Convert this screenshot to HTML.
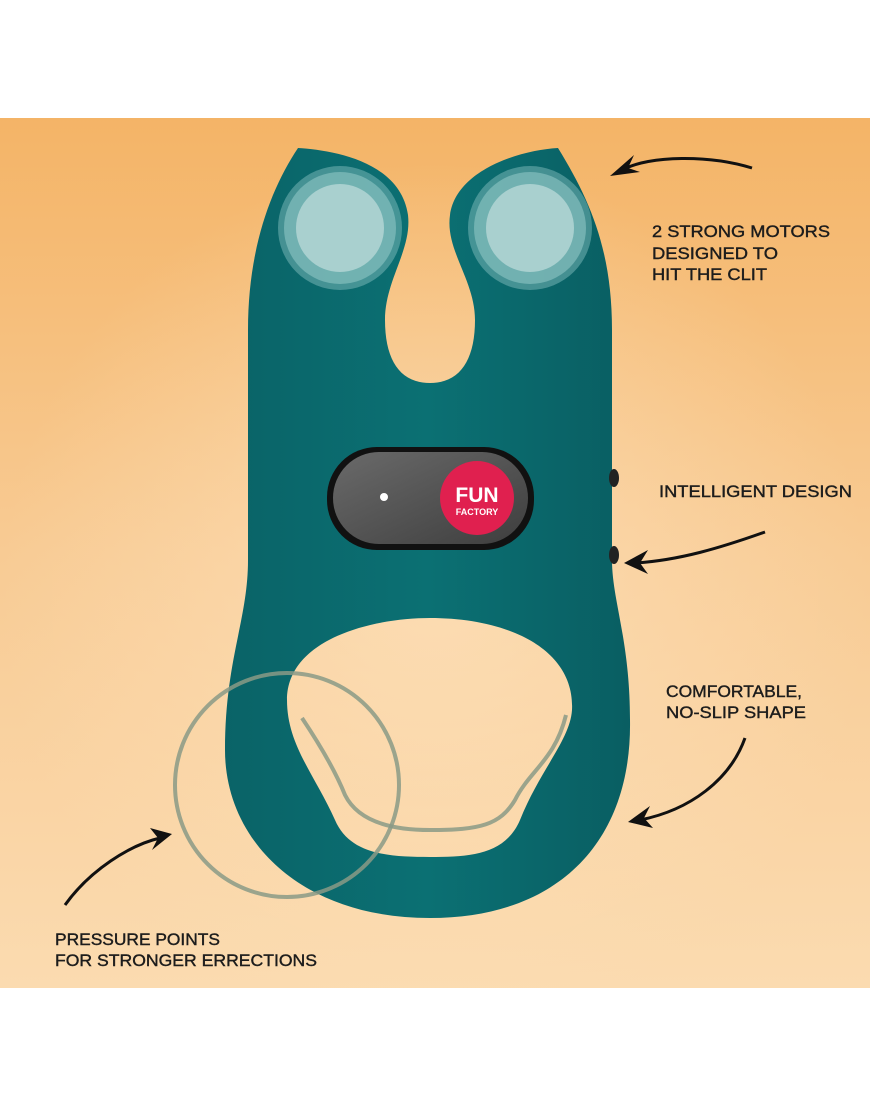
<!DOCTYPE html>
<html><head><meta charset="utf-8"><style>
html,body{margin:0;padding:0;background:#fff;}
svg{display:block;}
text{font-family:"Liberation Sans",sans-serif;font-size:17px;fill:#1c1c1c;stroke:#1c1c1c;stroke-width:0.4;}
</style></head><body>
<svg width="870" height="1108" viewBox="0 0 870 1108" xmlns="http://www.w3.org/2000/svg">
<defs>
<linearGradient id="bg" x1="0" y1="0" x2="0" y2="1">
<stop offset="0" stop-color="#f4b467"/><stop offset="0.5" stop-color="#f8cb94"/><stop offset="1" stop-color="#fbdbb0"/>
</linearGradient>
<radialGradient id="glow" cx="0.5" cy="0.55" r="0.5">
<stop offset="0" stop-color="#fde2bd" stop-opacity="0.7"/><stop offset="1" stop-color="#fde2bd" stop-opacity="0"/>
</radialGradient>
<linearGradient id="teal" x1="0" y1="0" x2="1" y2="0">
<stop offset="0" stop-color="#0a6367"/><stop offset="0.5" stop-color="#0b7073"/><stop offset="1" stop-color="#095e62"/>
</linearGradient>
<linearGradient id="panel" x1="0" y1="0" x2="1" y2="1">
<stop offset="0" stop-color="#6a6a6a"/><stop offset="1" stop-color="#3e3e3e"/>
</linearGradient>
</defs>
<rect x="0" y="118" width="870" height="870" fill="url(#bg)"/>
<rect x="0" y="118" width="870" height="870" fill="url(#glow)"/>

<path fill="url(#teal)" fill-rule="evenodd" d="M298,148 C330,150 400,160 408,215 C412,250 385,280 385,320 C385,360 400,383 430,383 C460,383 475,360 475,320 C475,280 445,250 450,215 C456,170 520,150 558,148 C590,200 612,250 612,330 L612,560 C612,600 630,640 630,720 C632,840 560,918 430,918 C300,918 225,840 225,750 C225,660 248,620 248,560 L248,330 C248,250 270,190 298,148 Z
M287,700 C287,640 370,618 430,618 C510,618 575,650 572,710 C570,740 540,770 520,820 C505,855 470,857 430,857 C390,857 350,855 335,820 C315,775 287,745 287,700 Z"/>

<circle cx="340" cy="228" r="62" fill="#7fbcbc" opacity="0.5"/>
<circle cx="340" cy="228" r="56" fill="#8fc6c5" opacity="0.6"/>
<circle cx="340" cy="228" r="44" fill="#a9d0cf"/>
<circle cx="530" cy="228" r="62" fill="#7fbcbc" opacity="0.5"/>
<circle cx="530" cy="228" r="56" fill="#8fc6c5" opacity="0.6"/>
<circle cx="530" cy="228" r="44" fill="#a9d0cf"/>

<rect x="327" y="447" width="207" height="103" rx="50" fill="#111"/>
<rect x="333" y="452" width="195" height="92" rx="46" fill="url(#panel)"/>
<circle cx="384" cy="497" r="4" fill="#fff"/>
<circle cx="477" cy="498" r="37" fill="#e0204f"/>
<text x="477" y="502" text-anchor="middle" style="font-size:21px;font-weight:bold;fill:#fff;stroke:none">FUN</text>
<text x="477" y="515" text-anchor="middle" style="font-size:9px;font-weight:bold;fill:#fff;stroke:none">FACTORY</text>
<ellipse cx="614" cy="478" rx="5" ry="9" fill="#222"/>
<ellipse cx="614" cy="555" rx="5" ry="9" fill="#222"/>

<circle cx="287" cy="785" r="112" fill="none" stroke="#8a9a86" stroke-width="4" opacity="0.85"/>
<path d="M302,718 C320,745 335,770 345,795 C360,825 400,830 430,830 C480,830 500,825 515,800 C530,770 555,760 566,715" fill="none" stroke="#8a9a86" stroke-width="4" opacity="0.85"/>

<g fill="none" stroke="#111" stroke-width="3">
<path d="M752,168 C710,155 650,155 622,170"/>
<path d="M765,532 C720,548 680,560 636,563"/>
<path d="M745,738 C730,780 690,810 640,820"/>
<path d="M65,905 C90,870 130,845 160,838"/>
</g>
<g fill="#111">
<path d="M610,176 L634,155 L628,168 L640,172 Z"/>
<path d="M624,563 L648,550 L640,563 L648,574 Z"/>
<path d="M628,822 L650,806 L644,818 L653,828 Z"/>
<path d="M172,834 L150,828 L158,838 L152,850 Z"/>
</g>

<text x="652" y="237" textLength="178" lengthAdjust="spacingAndGlyphs">2 STRONG MOTORS</text>
<text x="652" y="259" textLength="126" lengthAdjust="spacingAndGlyphs">DESIGNED TO</text>
<text x="652" y="280" textLength="115" lengthAdjust="spacingAndGlyphs">HIT THE CLIT</text>
<text x="659" y="497" textLength="193" lengthAdjust="spacingAndGlyphs">INTELLIGENT DESIGN</text>
<text x="666" y="697" textLength="136" lengthAdjust="spacingAndGlyphs">COMFORTABLE,</text>
<text x="666" y="718" textLength="140" lengthAdjust="spacingAndGlyphs">NO-SLIP SHAPE</text>
<text x="55" y="945" textLength="165" lengthAdjust="spacingAndGlyphs">PRESSURE POINTS</text>
<text x="55" y="966" textLength="262" lengthAdjust="spacingAndGlyphs">FOR STRONGER ERRECTIONS</text>
</svg>
</body></html>
